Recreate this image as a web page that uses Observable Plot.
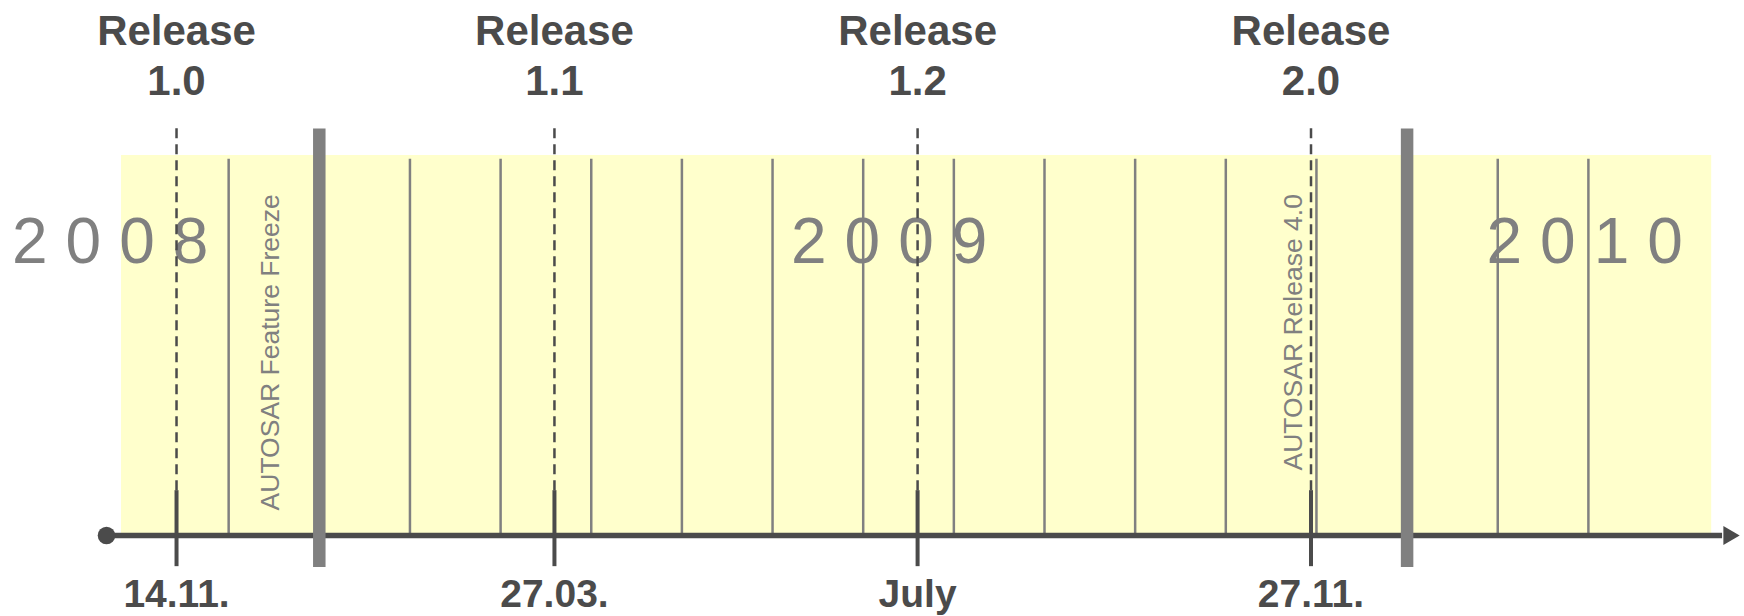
<!DOCTYPE html>
<html>
<head>
<meta charset="utf-8">
<script src="https://cdn.jsdelivr.net/npm/d3@7"></script>
<script src="https://cdn.jsdelivr.net/npm/@observablehq/plot@0.6"></script>
<style>
  html, body { margin: 0; padding: 0; background: #ffffff; overflow: hidden; }
  #chart svg { display: block; }
</style>
</head>
<body>
<div id="chart"></div>
<script>
// x unit: months counted from 1 Nov 2008 (uniform month spacing, as in the diagram)
const releaseVersions = ["1.0", "1.1", "1.2", "2.0"];
const releaseDates = ["14.11.", "27.03.", "July", "27.11."];
const releasePos = [0.425, 4.594, 8.60, 12.94];

const monthLines = [1, 3, 4, 5, 6, 7, 8, 9, 10, 11, 12, 13, 15, 16];
const yearBoundaries = [2, 14];

const years = ["2008", "2009", "2010"];
const yearPos = [-1.39, 7.203, 14.876];

const milestones = ["AUTOSAR Feature Freeze", "AUTOSAR Release 4.0"];
const milestonePos = [1.55, 12.843];
const milestoneStart = [6.6, 17.1];

// timeline extents (month units)
const bandStart = -0.182, bandEnd = 17.36;
const axisStart = -0.3475, axisEnd = 17.48, arrowAt = 17.549;

const dark = "#4b4b4b";
const gray = "#808080";
const yellow = "#ffffcc";
const font = "Liberation Sans, Arial, Helvetica, sans-serif";

const chart = Plot.plot({
  width: 1744,
  height: 616,
  margin: 0,
  x: {type: "linear", domain: [0, 16], range: [137.5, 1587.9], axis: null},
  y: {type: "linear", domain: [0, 100], range: [535, 155], axis: null},
  style: {background: "#ffffff", fontFamily: font, overflow: "visible"},
  marks: [
    Plot.rect([0], {x1: bandStart, x2: bandEnd, y1: 0, y2: 100, fill: yellow}),
    Plot.text(years, {
      x: (d, i) => yearPos[i], y: 71.8, text: d => d,
      textAnchor: "start", lineAnchor: "bottom",
      fontSize: 64, fill: gray, fontFamily: font
    }),
    Plot.ruleX(monthLines, {x: d => d, y1: 0, y2: 99, stroke: gray, strokeWidth: 2.5}),
    Plot.ruleY([0], {x1: axisStart, x2: axisEnd, y: 0, stroke: dark, strokeWidth: 5.5}),
    Plot.ruleX(yearBoundaries, {x: d => d, y1: -8.4, y2: 107, stroke: gray, strokeWidth: 12.5}),
    Plot.ruleX(releasePos, {x: d => d, y1: 11.8, y2: 107.3, stroke: dark, strokeWidth: 2.5, strokeDasharray: "10,6"}),
    Plot.ruleX(releasePos, {x: d => d, y1: -8.2, y2: 11.8, stroke: dark, strokeWidth: 4}),
    Plot.dot([0], {x: axisStart, y: 0, r: 8.8, fill: dark, stroke: null}),
    Plot.dot([0], {x: arrowAt, y: 0, r: 7, symbol: "triangle", rotate: 90, fill: dark, stroke: null}),
    Plot.text(milestones, {
      x: (d, i) => milestonePos[i], y: (d, i) => milestoneStart[i], text: d => d,
      rotate: -90, textAnchor: "start", lineAnchor: "bottom",
      fontSize: 26.5, fill: gray, fontFamily: font
    }),
    Plot.text(releasePos, {
      x: d => d, y: 115.8, text: (d, i) => "Release\n" + releaseVersions[i],
      lineAnchor: "bottom", lineHeight: 1.2,
      fontSize: 42, fontWeight: "bold", fill: dark, fontFamily: font
    }),
    Plot.text(releasePos, {
      x: d => d, y: -18.7, text: (d, i) => releaseDates[i],
      lineAnchor: "bottom",
      fontSize: 39, fontWeight: "bold", fill: dark, fontFamily: font
    })
  ]
});

// widen the year labels' letter spacing
chart.querySelectorAll("text").forEach(t => {
  if (years.includes(t.textContent)) t.setAttribute("letter-spacing", "18px");
});

document.getElementById("chart").appendChild(chart);
</script>
</body>
</html>
